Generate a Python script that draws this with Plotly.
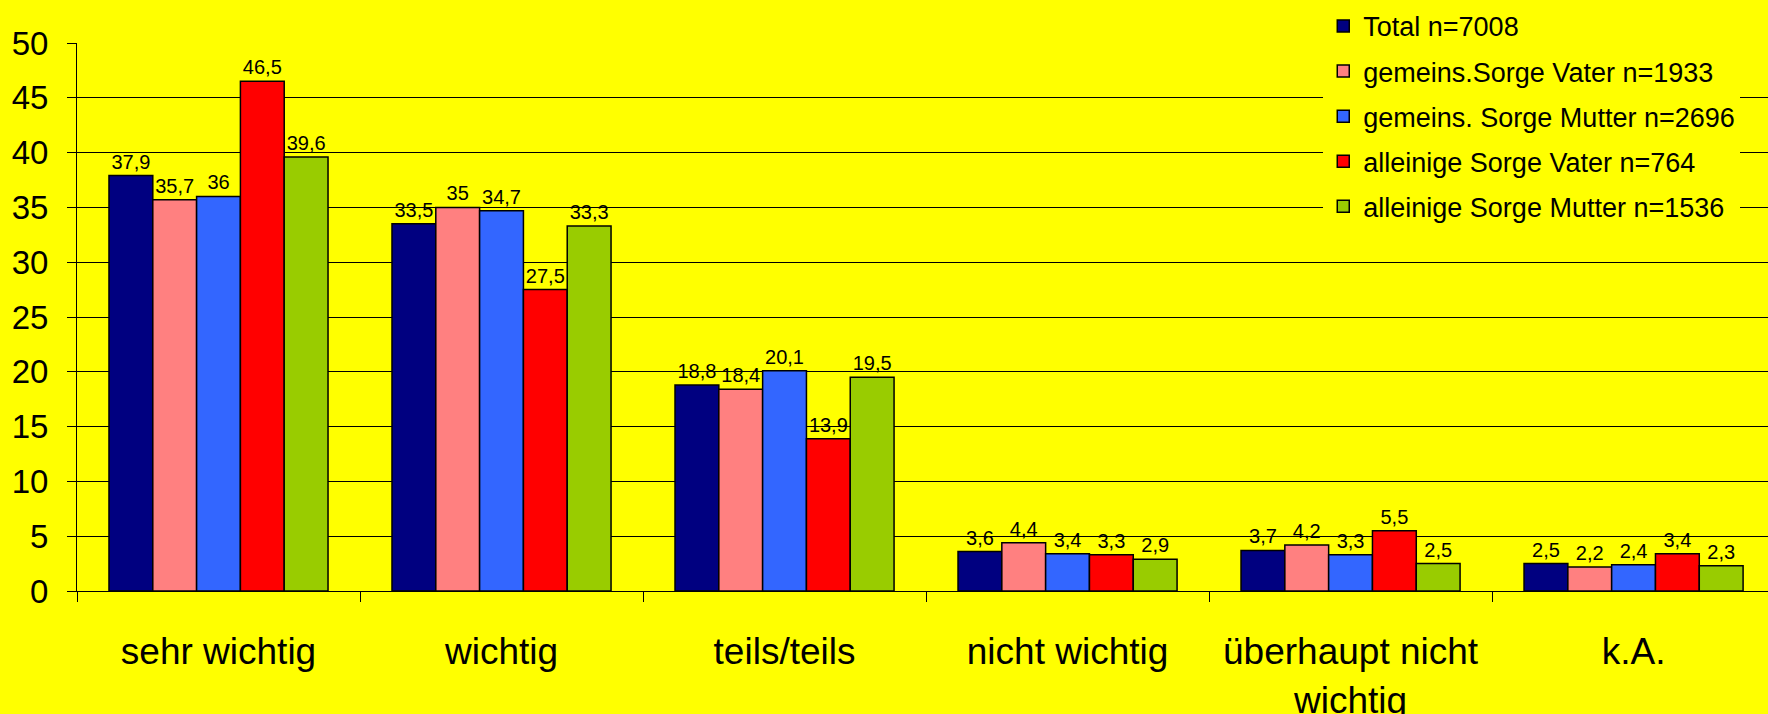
"""
plot.py

Grouped bar chart: Wichtigkeit nach Sorgerechtsform (Angaben in %).
"""

import plotly.graph_objects as go


# ==========================================================
# DATA
# ==========================================================

categories = [
    "sehr wichtig",
    "wichtig",
    "teils/teils",
    "nicht wichtig",
    "überhaupt nicht<br>wichtig",
    "k.A."
]

series_names = [
    "Total n=7008",
    "gemeins.Sorge Vater n=1933",
    "gemeins. Sorge Mutter n=2696",
    "alleinige Sorge Vater n=764",
    "alleinige Sorge Mutter n=1536"
]

total = [37.9, 33.5, 18.8, 3.6, 3.7, 2.5]
gemeins_vater = [35.7, 35, 18.4, 4.4, 4.2, 2.2]
gemeins_mutter = [36, 34.7, 20.1, 3.4, 3.3, 2.4]
alleinige_vater = [46.5, 27.5, 13.9, 3.3, 5.5, 3.4]
alleinige_mutter = [39.6, 33.3, 19.5, 2.9, 2.5, 2.3]

y_ticks = [0, 5, 10, 15, 20, 25, 30, 35, 40, 45, 50]


# ==========================================================
# STYLE
# ==========================================================

FONT = "Liberation Sans, Arial, sans-serif"

BACKGROUND = "#FFFF00"

colors = [
    "#000080",
    "#FF8080",
    "#3366FF",
    "#FF0000",
    "#99CC00"
]


def fmt(value):
    """
    German decimal comma.
    """

    return f"{value:g}".replace(".", ",")


# ==========================================================
# FIGURE
# ==========================================================

fig = go.Figure()

all_series = [
    total,
    gemeins_vater,
    gemeins_mutter,
    alleinige_vater,
    alleinige_mutter
]

for i, values in enumerate(all_series):

    fig.add_trace(

        go.Bar(

            x=categories,

            y=values,

            name=series_names[i],

            legendgroup=f"g{i}",

            text=[fmt(v) for v in values],

            textposition="outside",

            constraintext="none",

            cliponaxis=False,

            textfont=dict(
                family=FONT,
                size=20,
                color="black"
            ),

            marker=dict(
                color=colors[i],
                line=dict(
                    color="black",
                    width=1.5
                )
            )

        )

    )


fig.update_layout(

    width=1768,

    height=714,

    font=dict(
        family=FONT,
        color="black"
    ),

    paper_bgcolor=BACKGROUND,

    plot_bgcolor=BACKGROUND,

    barmode="group",

    bargap=0.226,

    bargroupgap=0,

    showlegend=True,

    legend=dict(

        x=0.737,

        xanchor="left",

        y=1.075,

        yanchor="top",

        bgcolor=BACKGROUND,

        borderwidth=0,

        tracegroupgap=7,

        entrywidthmode="pixels",

        entrywidth=410,

        font=dict(
            family=FONT,
            size=27,
            color="black"
        )

    ),

    margin=dict(

        l=77,

        r=0,

        t=43,

        b=123,

        autoexpand=False

    ),

    xaxis=dict(

        range=[-0.5, 5.475],

        showgrid=False,

        zeroline=False,

        showline=True,

        linecolor="black",

        linewidth=1,

        ticks="outside",

        tickson="boundaries",

        ticklen=10,

        tickcolor="black",

        ticklabelstandoff=28,

        tickfont=dict(
            family=FONT,
            size=37,
            color="black"
        )

    ),

    yaxis=dict(

        range=[0, 50],

        tickvals=y_ticks,

        showgrid=True,

        gridcolor="black",

        gridwidth=1,

        zeroline=False,

        showline=True,

        linecolor="black",

        linewidth=1,

        ticks="outside",

        ticklen=9,

        tickcolor="black",

        ticklabelstandoff=12,

        tickfont=dict(
            family=FONT,
            size=33,
            color="black"
        )

    )

)

# page has a default body margin; drop it so the chart fills the window
fig.write_html(
    "out.html",
    config={"displayModeBar": False},
    post_script="document.body.style.margin = '0';"
)
